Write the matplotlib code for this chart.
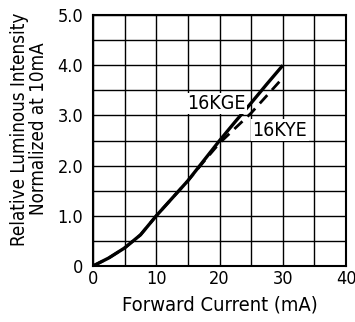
import matplotlib
matplotlib.use('Agg')
import matplotlib.pyplot as plt
from matplotlib.ticker import MultipleLocator

# data
current = [0, 2.5, 5, 7.5, 10, 12.5, 15, 17.5, 20, 22.5, 25, 27.5, 30]
kge = [0, 0.16, 0.36, 0.62, 1.0, 1.35, 1.7, 2.1, 2.5, 2.88, 3.25, 3.63, 4.0]
kye = [0, 0.16, 0.36, 0.62, 1.0, 1.35, 1.7, 2.08, 2.45, 2.75, 3.05, 3.4, 3.75]

x_ticks = [0, 10, 20, 30, 40]
y_ticks = [0, 1, 2, 3, 4, 5]
y_labels = ["0", "1.0", "2.0", "3.0", "4.0", "5.0"]

plt.rcParams['font.family'] = ['DejaVu Sans']
plt.rcParams['font.stretch'] = 'condensed'

fig = plt.figure(figsize=(3.55, 3.22), dpi=100)
ax = fig.add_axes([0.262, 0.174, 0.713, 0.779])

ax.plot(current, kge, color='black', lw=2.4, zorder=3, solid_capstyle='butt')
ax.plot(current, kye, color='black', lw=2.0, ls=(0, (4, 2.5)), zorder=3)

ax.set_xlim(0, 40)
ax.set_ylim(0, 5)
ax.set_xticks(x_ticks)
ax.set_yticks(y_ticks)
ax.set_yticklabels(y_labels)
ax.xaxis.set_minor_locator(MultipleLocator(5))
ax.yaxis.set_minor_locator(MultipleLocator(0.5))
ax.grid(which='both', color='black', lw=1.0)
ax.tick_params(which='both', length=0, labelsize=13)
ax.tick_params(axis='x', pad=3)
ax.tick_params(axis='y', pad=7)
for s in ax.spines.values():
    s.set_linewidth(1.5)

ax.text(14.9, 3.24, "16KGE", fontsize=14, va='center', ha='left',
        bbox=dict(facecolor='white', edgecolor='none', pad=1.0), zorder=4)
ax.text(25.2, 2.71, "16KYE", fontsize=14, va='center', ha='left',
        bbox=dict(facecolor='white', edgecolor='none', pad=1.0), zorder=4)

ax.set_xlabel("Forward Current (mA)", fontsize=14.5, labelpad=5)
ax.set_ylabel("Relative Luminous Intensity\nNormalized at 10mA", fontsize=13.5,
              linespacing=1.0)
ax.yaxis.set_label_coords(-0.178, 0.546)

fig.savefig('out.png', dpi=100)
